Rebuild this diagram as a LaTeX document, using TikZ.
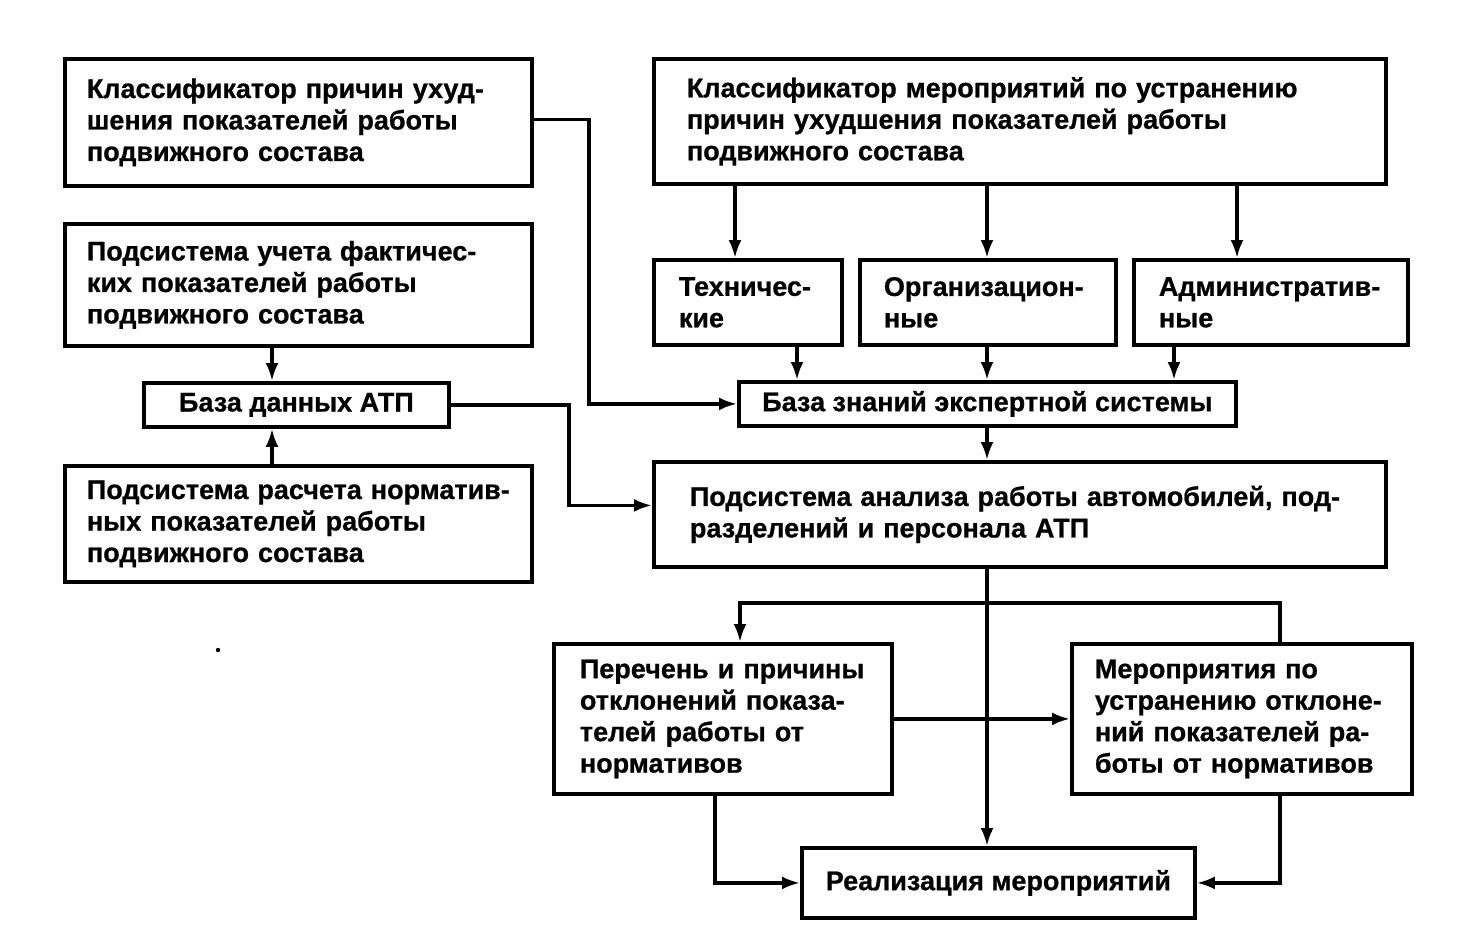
\documentclass[tikz,border=0pt]{standalone}
\usepackage{fontspec}
\setmainfont{Liberation Sans}[BoldFeatures={FakeBold=0.8}]
\usetikzlibrary{arrows.meta}
\newcommand\myl[1]{\mbox{#1}}
\begin{document}
\begin{tikzpicture}[x=1pt,y=-1pt,
  box/.style={draw, line width=3.8pt, anchor=north west, align=left,
    font=\fontsize{27}{31.5}\selectfont\bfseries, inner ysep=0pt},
  cbox/.style={box, align=center, inner xsep=0pt},
  arr/.style={line width=3.3pt, -{Latex[length=18pt,width=13pt]}},
  ln/.style={line width=3.3pt}]
\useasboundingbox (0,0) rectangle (1478,940);
% boxes
\node[box, text width=423pt, inner xsep=22pt, minimum height=127pt] (b1) at (63,57)
  {\myl{Классификатор причин ухуд-}\\\myl{шения показателей работы}\\\myl{подвижного состава}};
\node[box, text width=423pt, inner xsep=22pt, minimum height=122pt] (b2) at (63,222)
  {\myl{Подсистема учета фактичес-}\\\myl{ких показателей работы}\\\myl{подвижного состава}};
\node[cbox, minimum width=305pt, minimum height=44pt] (b3) at (142,381)
  {База данных АТП};
\node[box, text width=423pt, inner xsep=22pt, minimum height=116pt] (b4) at (63,464)
  {\myl{Подсистема расчета норматив-}\\\myl{ных показателей работы}\\\myl{подвижного состава}};
\node[box, text width=666pt, inner xsep=33pt, minimum height=125pt] (b5) at (652,57)
  {\myl{Классификатор мероприятий по устранению}\\\myl{причин ухудшения показателей работы}\\\myl{подвижного состава}};
\node[box, text width=138pt, inner xsep=25pt, minimum height=85pt] (b6) at (652,258)
  {\myl{Техничес-}\\\myl{кие}};
\node[box, text width=208pt, inner xsep=24pt, minimum height=85pt] (b7) at (858,258)
  {\myl{Организацион-}\\\myl{ные}};
\node[box, text width=224pt, inner xsep=25pt, minimum height=85pt] (b8) at (1132,258)
  {\myl{Административ-}\\\myl{ные}};
\node[cbox, minimum width=497pt, minimum height=44pt] (b9) at (737,380)
  {База знаний экспертной системы};
\node[box, text width=660pt, inner xsep=36pt, minimum height=105pt] (b10) at (652,460)
  {\myl{Подсистема анализа работы автомобилей, под-}\\\myl{разделений и персонала АТП}};
\node[box, text width=286pt, inner xsep=26pt, minimum height=150pt] (b11) at (552,642)
  {\myl{Перечень и причины}\\\myl{отклонений показа-}\\\myl{телей работы от}\\\myl{нормативов}};
\node[box, text width=294pt, inner xsep=23pt, minimum height=150pt] (b12) at (1070,642)
  {\myl{Мероприятия по}\\\myl{устранению отклоне-}\\\myl{ний показателей ра-}\\\myl{боты от нормативов}};
\node[cbox, minimum width=393pt, minimum height=70pt] (b13) at (800,846)
  {Реализация мероприятий};
% helper coordinates
\coordinate (k1) at (589,300);
\coordinate (k2) at (569,450);
\coordinate (t1) at (735,0);
\coordinate (t3) at (1237,0);
\coordinate (t4) at (797,0);
\coordinate (t5) at (1174,0);
\coordinate (t2) at (272,0);
\coordinate (tc) at (987,0);
\coordinate (j1) at (987,603);
\coordinate (t11) at (740,0);
\coordinate (t12) at (1280,0);
\coordinate (t13) at (715,0);
% connectors
\draw[arr] ([yshift=3pt]b1.east) -| (k1) |- (b9.west);
\draw[arr] (b3.east) -| (k2) |- ([yshift=9pt]b10.west);
\draw[arr] (b2.south -| t2) -- (b3.north -| t2);
\draw[arr] (b4.north -| t2) -- (b3.south -| t2);
\draw[arr] (b5.south -| t1) -- (b6.north -| t1);
\draw[arr] (b5.south -| tc) -- (b7.north -| tc);
\draw[arr] (b5.south -| t3) -- (b8.north -| t3);
\draw[arr] (b6.south -| t4) -- (b9.north -| t4);
\draw[arr] (b7.south -| tc) -- (b9.north -| tc);
\draw[arr] (b8.south -| t5) -- (b9.north -| t5);
\draw[arr] (b9.south -| tc) -- (b10.north -| tc);
\draw[arr] (b10.south -| tc) -- (b13.north -| tc);
\draw[arr] (j1) -| (b11.north -| t11);
\draw[ln] (j1) -| (b12.north -| t12);
\draw[arr] (b11.east) -- (b11.east -| b12.west);
\draw[arr] (b11.south -| t13) |- (b13.west);
\draw[arr] (b12.south -| t12) |- (b13.east);
% stray dot
\fill (218,650) circle (2.2pt);
\end{tikzpicture}
\end{document}
